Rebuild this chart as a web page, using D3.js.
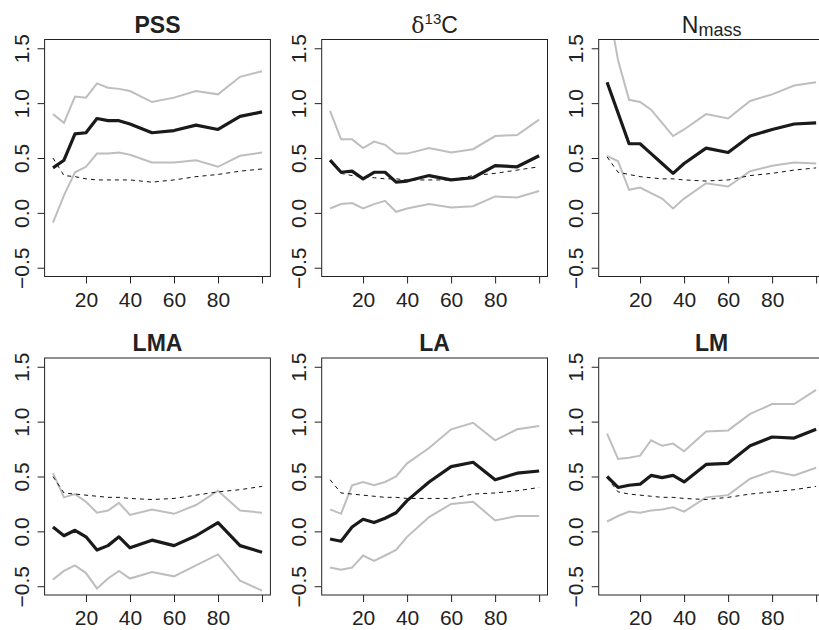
<!DOCTYPE html>
<html>
<head>
<meta charset="utf-8">
<script src="https://cdn.jsdelivr.net/npm/d3@7"></script>
<style>
  html, body { margin: 0; padding: 0; background: #fff; }
  svg { display: block; font-family: "Liberation Sans", Arial, Helvetica, sans-serif; }
</style>
</head>
<body>
<svg id="chart" width="819" height="630"></svg>
<script>
// Sampling intensities shared by every panel
const xs = [5, 10, 15, 20, 25, 30, 35, 40, 50, 60, 70, 80, 90, 100];

// Panel titles (rendered below with bold or sub/superscript markup)
const traits = ["PSS", "d13C", "Nmass", "LMA", "LA", "LM"];

// Mean estimate per trait (thick black line)
const pssMean   = [0.41, 0.48, 0.72, 0.73, 0.86, 0.84, 0.84, 0.81, 0.73, 0.75, 0.80, 0.76, 0.88, 0.92];
const d13cMean  = [0.48, 0.37, 0.38, 0.31, 0.37, 0.37, 0.28, 0.29, 0.34, 0.30, 0.32, 0.43, 0.42, 0.52];
const nmassMean = [1.19, 0.91, 0.63, 0.63, 0.54, 0.45, 0.36, 0.45, 0.59, 0.55, 0.70, 0.76, 0.81, 0.82];
const lmaMean   = [0.04, -0.04, 0.01, -0.05, -0.17, -0.13, -0.05, -0.15, -0.08, -0.13, -0.04, 0.08, -0.13, -0.19];
const laMean    = [-0.07, -0.09, 0.04, 0.11, 0.08, 0.12, 0.17, 0.28, 0.45, 0.59, 0.63, 0.47, 0.53, 0.55];
const lmMean    = [0.50, 0.40, 0.42, 0.43, 0.51, 0.49, 0.51, 0.45, 0.61, 0.62, 0.78, 0.86, 0.85, 0.93];

// Upper interval bound (grey)
const pssUpper   = [0.90, 0.82, 1.06, 1.05, 1.18, 1.14, 1.13, 1.11, 1.01, 1.05, 1.11, 1.08, 1.24, 1.29];
const d13cUpper  = [0.93, 0.67, 0.67, 0.59, 0.65, 0.62, 0.54, 0.54, 0.59, 0.55, 0.58, 0.70, 0.71, 0.85];
const nmassUpper = [1.95, 1.39, 1.03, 1.01, 0.94, 0.82, 0.70, 0.76, 0.90, 0.86, 1.02, 1.08, 1.16, 1.19];
const lmaUpper   = [0.53, 0.31, 0.34, 0.27, 0.17, 0.19, 0.26, 0.15, 0.20, 0.16, 0.24, 0.37, 0.19, 0.17];
const laUpper    = [0.20, 0.16, 0.42, 0.45, 0.42, 0.45, 0.50, 0.62, 0.76, 0.93, 0.99, 0.83, 0.93, 0.96];
const lmUpper    = [0.89, 0.66, 0.67, 0.69, 0.83, 0.78, 0.80, 0.73, 0.91, 0.92, 1.07, 1.16, 1.16, 1.29];

// Lower interval bound (grey)
const pssLower   = [-0.09, 0.16, 0.37, 0.42, 0.54, 0.54, 0.55, 0.53, 0.46, 0.46, 0.48, 0.42, 0.52, 0.55];
const d13cLower  = [0.04, 0.08, 0.09, 0.04, 0.08, 0.11, 0.01, 0.04, 0.08, 0.05, 0.06, 0.15, 0.14, 0.20];
const nmassLower = [0.52, 0.47, 0.21, 0.23, 0.18, 0.13, 0.04, 0.13, 0.27, 0.24, 0.38, 0.43, 0.46, 0.45];
const lmaLower   = [-0.44, -0.36, -0.31, -0.38, -0.52, -0.43, -0.36, -0.43, -0.37, -0.41, -0.31, -0.21, -0.45, -0.54];
const laLower    = [-0.33, -0.35, -0.33, -0.22, -0.27, -0.22, -0.17, -0.05, 0.13, 0.25, 0.27, 0.10, 0.14, 0.14];
const lmLower    = [0.09, 0.14, 0.18, 0.17, 0.19, 0.20, 0.22, 0.18, 0.31, 0.33, 0.48, 0.55, 0.51, 0.58];

// Null expectation (thin dashed line)
const pssNull   = [0.50, 0.34, 0.33, 0.31, 0.30, 0.30, 0.30, 0.30, 0.28, 0.30, 0.33, 0.35, 0.38, 0.40];
const d13cNull  = [0.47, 0.36, 0.34, 0.33, 0.32, 0.31, 0.31, 0.30, 0.30, 0.30, 0.34, 0.36, 0.39, 0.42];
const nmassNull = [0.51, 0.37, 0.35, 0.33, 0.32, 0.31, 0.31, 0.30, 0.29, 0.30, 0.34, 0.36, 0.39, 0.41];
const lmaNull   = [0.50, 0.35, 0.34, 0.33, 0.32, 0.31, 0.31, 0.30, 0.29, 0.30, 0.33, 0.36, 0.38, 0.41];
const laNull    = [0.47, 0.35, 0.34, 0.33, 0.32, 0.31, 0.31, 0.30, 0.30, 0.30, 0.34, 0.35, 0.37, 0.40];
const lmNull    = [0.49, 0.36, 0.34, 0.33, 0.32, 0.31, 0.31, 0.30, 0.29, 0.31, 0.34, 0.36, 0.38, 0.41];

// Axis ticks
const xTicks = [20, 40, 60, 80, 100];
const xTickLabels = ["20", "40", "60", "80", ""];
const yTicks = [-0.5, 0, 0.5, 1.0, 1.5];

const panels = [
  { mean: pssMean,   upper: pssUpper,   lower: pssLower,   nul: pssNull },
  { mean: d13cMean,  upper: d13cUpper,  lower: d13cLower,  nul: d13cNull },
  { mean: nmassMean, upper: nmassUpper, lower: nmassLower, nul: nmassNull },
  { mean: lmaMean,   upper: lmaUpper,   lower: lmaLower,   nul: lmaNull },
  { mean: laMean,    upper: laUpper,    lower: laLower,    nul: laNull },
  { mean: lmMean,    upper: lmUpper,    lower: lmLower,    nul: lmNull }
];

// Layout of the 2 x 3 grid
const colLeft = [44.6, 321.7, 598.7];
const rowTop = [39.5, 358.0];
const plotW = 225.8, plotH = 237.0;
const ink = "#222";
const tickFont = 21;

const svg = d3.select("#chart");
svg.append("rect").attr("width", 819).attr("height", 630).attr("fill", "#fff");

panels.forEach((p, i) => {
  const col = i % 3, row = Math.floor(i / 3);
  const g = svg.append("g").attr("transform", `translate(${colLeft[col]},${rowTop[row]})`);

  const x = d3.scaleLinear().domain([1.2, 103.8]).range([0, plotW]);
  const y = d3.scaleLinear().domain([-0.58, 1.58]).range([plotH, 0]);

  const clipId = "clip" + i;
  g.append("clipPath").attr("id", clipId)
    .append("rect").attr("width", plotW).attr("height", plotH);

  const line = d3.line().x((d, k) => x(xs[k])).y(d => y(d));
  const lines = g.append("g").attr("clip-path", `url(#${clipId})`);

  lines.append("path").datum(p.upper).attr("d", line)
    .attr("fill", "none").attr("stroke", "#bebebe").attr("stroke-width", 2);
  lines.append("path").datum(p.lower).attr("d", line)
    .attr("fill", "none").attr("stroke", "#bebebe").attr("stroke-width", 2);
  lines.append("path").datum(p.nul).attr("d", line)
    .attr("fill", "none").attr("stroke", "#111").attr("stroke-width", 1)
    .attr("stroke-dasharray", "4,4");
  lines.append("path").datum(p.mean).attr("d", line)
    .attr("fill", "none").attr("stroke", "#1a1a1a").attr("stroke-width", 3.2)
    .attr("stroke-linejoin", "round");

  // Frame
  g.append("rect").attr("width", plotW).attr("height", plotH)
    .attr("fill", "none").attr("stroke", ink).attr("stroke-width", 1);

  // X axis
  const xa = g.append("g").attr("transform", `translate(0,${plotH})`)
    .call(d3.axisBottom(x).tickValues(xTicks)
      .tickFormat((d, k) => xTickLabels[k]).tickSize(7).tickSizeOuter(0));
  xa.attr("font-family", null).attr("font-size", null);
  xa.select(".domain").remove();
  xa.selectAll("line").attr("stroke", ink);
  xa.selectAll("text").attr("y", 30).attr("dy", null)
    .attr("fill", ink).attr("font-size", tickFont);

  // Y axis with labels parallel to the axis
  const ya = g.append("g")
    .call(d3.axisLeft(y).tickValues(yTicks).tickFormat(d3.format(".1f"))
      .tickSize(7).tickSizeOuter(0));
  ya.attr("font-family", null).attr("font-size", null);
  ya.select(".domain").remove();
  ya.selectAll("line").attr("stroke", ink);
  ya.selectAll("text").attr("x", null).attr("dy", null)
    .attr("text-anchor", "middle")
    .attr("transform", "translate(-16,0) rotate(-90)")
    .attr("fill", ink).attr("font-size", tickFont);

  // Title
  const t = g.append("text").attr("x", plotW / 2).attr("y", -7)
    .attr("text-anchor", "middle").attr("fill", ink).attr("font-size", 23);
  const name = traits[i];
  if (name === "d13C") {
    t.append("tspan").text("δ").attr("font-family", "'DejaVu Serif', 'Liberation Serif', serif")
      .attr("font-size", 22);
    t.append("tspan").text("13").attr("font-size", 15).attr("dy", -9);
    t.append("tspan").text("C").attr("dy", 9);
  } else if (name === "Nmass") {
    t.append("tspan").text("N");
    t.append("tspan").text("mass").attr("font-size", 18).attr("dy", 3);
  } else {
    t.attr("font-weight", "bold").text(name);
  }
});
</script>
</body>
</html>
